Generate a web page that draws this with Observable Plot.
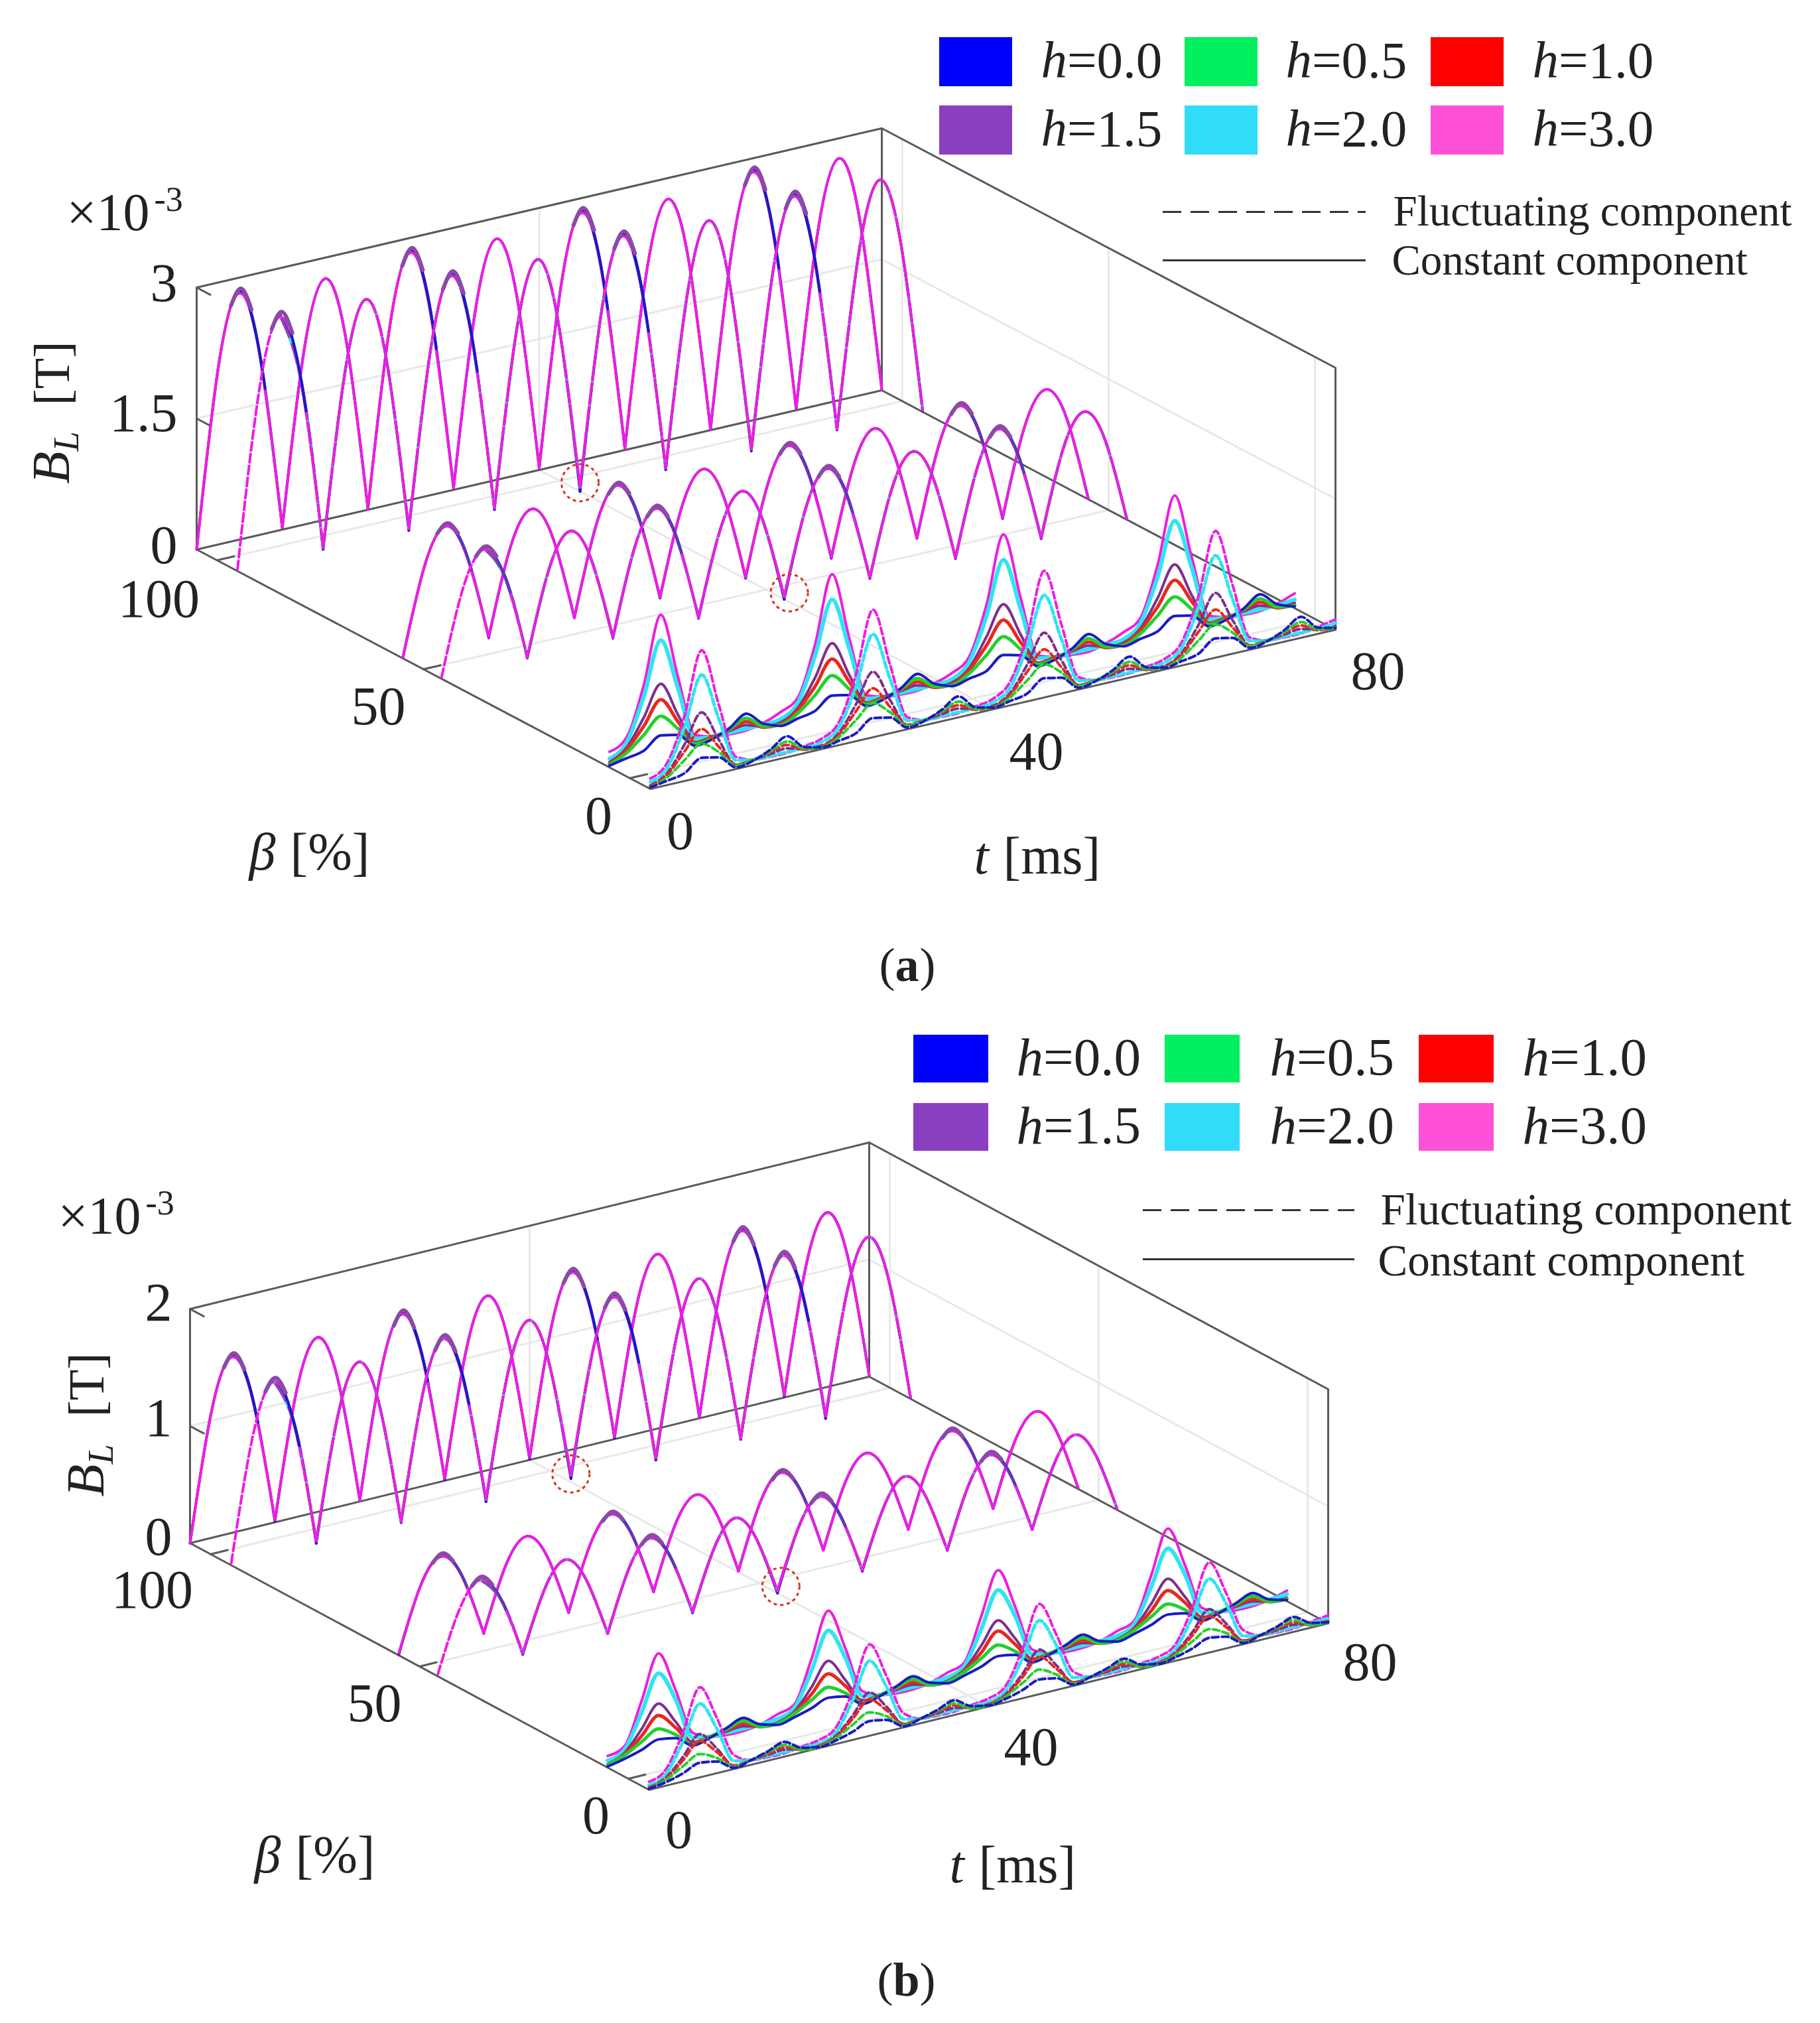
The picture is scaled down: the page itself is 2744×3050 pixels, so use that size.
<!DOCTYPE html>
<html><head><meta charset="utf-8">
<style>html,body{margin:0;padding:0;background:#fff}svg{display:block}</style>
<script src="https://cdn.jsdelivr.net/npm/d3@7"></script>
<script src="https://cdn.jsdelivr.net/npm/@observablehq/plot@0.6"></script>
</head><body><div id="chart"></div>
<script>
// Sample times (ms)
const tUpper=[0,2.5,5,7.5,10,12.5,15,17.5,20,22.5,25,27.5,30,32.5,35,37.5,40,42.5,45,47.5,50,52.5,55,57.5,60,62.5,65,67.5,70,72.5,75,77.5,80];
const tLower=[0,2,4,6,8,10,12,14,16,18,20,22,24,26,28,30,32,34,36,38,40,42,44,46,48,50,52,54,56,58,60,62,64,66,68,70,72,74,76,78,80];
const tPeak=[4,5.2,6.4,24,25.2,26.4,44,45.2,46.4,64,65.2,66.4];
const tFall=[6.2,7.1,8,26.2,27.1,28,46.2,47.1,48,66.2,67.1,68];
// Beta positions of the curve groups and ticks (%)
const betaSolid=[100,54.5,9], betaDashed=[91,46,0];
const betaTicks=[4.5,50,95.5], betaTickLabels=["0","50","100"];
const hLabels=["=0.0","=0.5","=1.0","=1.5","=2.0","=3.0"];
const swatchColors=["#0000ff","#00f060","#ff0000","#8a3fc0","#30dcf8","#ff50d8"];
const lineColors={h0:"#1a1ac4",h05:"#22d030",h1:"#e8281c",h15:"#7c2f90",h2:"#30e4f0",h3:"#ee1ee0"};

// Panel (a), BL in mT
const a100h3=[0,2.01,2.82,1.97,.02,1.97,2.76,1.97,.01,2.01,2.83,1.96,.02,1.97,2.76,1.98,.02,2.02,2.83,1.97,.02,1.96,2.76,1.97,.01,2.01,2.84,1.97,.02,1.97,2.77,1.97,.01];
const a100h0=[0,2.01,2.84,2.00,.02,1.97,2.76,1.97,.01,2.01,2.85,2.00,.02,1.97,2.76,1.98,.02,2.02,2.85,2.00,.02,1.96,2.76,1.97,.01,2.01,2.86,2.00,.02,1.97,2.77,1.97,.01];
const a100p=[2.70,2.87,2.60,2.70,2.88,2.60,2.71,2.88,2.60,2.71,2.89,2.61];
const a100f=[2.62,2.22,1.66,2.63,2.23,1.66,2.63,2.23,1.66,2.64,2.24,1.67];
const a91h3=[.02,1.99,2.80,1.96,.04,1.96,2.77,1.96,.03,1.99,2.81,1.96,.04,1.96,2.77,1.97,.05,2.00,2.81,1.96,.04,1.96,2.76,1.96,.03,1.99,2.81,1.96,.03,1.96,2.77,1.96,.02];
const a91h0=[.02,1.99,2.82,1.99,.02,1.96,2.77,1.96,.01,1.99,2.83,1.99,.02,1.96,2.77,1.97,0,2.00,2.83,1.99,.02,1.96,2.76,1.96,.01,1.99,2.83,1.99,.02,1.96,2.77,1.96,.01];
const a91p=[2.68,2.85,2.58,2.68,2.86,2.58,2.69,2.86,2.58,2.69,2.86,2.58];
const a91f=[2.60,2.21,1.65,2.61,2.21,1.65,2.61,2.21,1.65,2.61,2.21,1.65];
const a55h3=[.02,1.00,1.40,.98,.02,.98,1.37,.98,.01,1.00,1.41,.98,.02,.98,1.37,.98,.02,1.00,1.41,.98,.02,.98,1.38,.98,.01,1.00,1.41,.98,.02,.98,1.37,.98,.01];
const a55h0=[.02,1.00,1.41,1.00,.01,.98,1.37,.98,.01,1.00,1.42,1.00,.01,.98,1.37,.98,.01,1.00,1.42,1.00,.01,.98,1.38,.98,.01,1.00,1.42,1.00,.01,.98,1.37,.98,.01];
const a55p=[1.34,1.43,1.29,1.34,1.44,1.29,1.34,1.44,1.29,1.34,1.44,1.29];
const a55f=[1.30,1.11,.83,1.31,1.11,.83,1.31,1.11,.83,1.31,1.11,.83];
const a46h3=[.02,.98,1.37,.96,.02,.96,1.35,.96,.02,.98,1.38,.96,.02,.96,1.35,.96,.03,.98,1.38,.96,.02,.96,1.35,.96,.02,.98,1.38,.96,.02,.96,1.35,.96,.01];
const a46h0=[.01,.98,1.38,.98,.01,.96,1.35,.96,.01,.98,1.39,.98,.01,.96,1.35,.96,0,.98,1.39,.98,.01,.96,1.35,.96,.01,.98,1.39,.98,.01,.96,1.35,.96,.01];
const a46p=[1.31,1.40,1.26,1.31,1.41,1.26,1.31,1.41,1.26,1.31,1.41,1.26];
const a46f=[1.27,1.08,.81,1.28,1.09,.81,1.28,1.09,.81,1.28,1.09,.81];
// Panel (a) beta = 9 solid curves
const a9h3=[.18,.30,.85,1.61,.85,.14,.08,.06,.06,.10,.18,.30,.86,1.62,.84,.14,.08,.06,.06,.10,.17,.31,.85,1.62,.85,.14,.08,.06,.05,.10,.18,.30,.86,1.61,.85,.14,.08,.06,.06,.10,.17];
const a9h2=[.10,.24,.72,1.32,.72,.10,.08,.08,.08,.08,.10,.24,.73,1.33,.72,.10,.08,.08,.08,.08,.10,.25,.72,1.33,.72,.11,.08,.08,.08,.08,.10,.24,.72,1.32,.73,.10,.08,.08,.08,.08,.10];
const a9h15=[.06,.18,.48,.82,.42,.06,.08,.10,.12,.06,.06,.18,.48,.83,.42,.06,.08,.10,.12,.06,.06,.18,.49,.82,.43,.06,.08,.10,.12,.06,.06,.18,.48,.82,.42,.06,.08,.10,.12,.06,.06];
const a9h1=[.04,.16,.38,.64,.34,.05,.07,.11,.16,.05,.04,.16,.38,.65,.34,.05,.07,.11,.16,.05,.04,.16,.39,.64,.34,.05,.07,.11,.16,.05,.04,.16,.38,.64,.35,.05,.07,.11,.16,.05,.04];
const a9h05=[.03,.12,.28,.45,.26,.04,.06,.12,.20,.06,.03,.12,.28,.46,.26,.04,.06,.12,.20,.06,.03,.12,.28,.45,.26,.04,.06,.12,.20,.06,.03,.12,.28,.45,.26,.04,.06,.12,.20,.06,.03];
const a9h0=[.02,.06,.10,.23,.19,.02,.05,.13,.25,.09,.02,.06,.10,.23,.19,.02,.05,.13,.25,.09,.02,.06,.10,.24,.19,.02,.05,.13,.25,.09,.02,.06,.10,.23,.19,.02,.05,.13,.25,.09,.02];
// Panel (a) beta = 0 dashed curves
const a0h3=[.12,.26,.75,1.45,.78,.14,.06,.05,.05,.08,.12,.26,.76,1.46,.78,.14,.06,.05,.05,.08,.12,.27,.75,1.45,.79,.14,.06,.05,.05,.08,.12,.26,.75,1.45,.78,.14,.06,.05,.05,.08,.12];
const a0h2=[.08,.20,.62,1.17,.62,.10,.06,.06,.06,.06,.08,.20,.62,1.18,.62,.10,.06,.06,.06,.06,.08,.20,.63,1.17,.62,.10,.06,.06,.06,.06,.08,.20,.62,1.17,.62,.10,.06,.06,.06,.06,.08];
const a0h15=[.04,.14,.42,.74,.38,.05,.06,.08,.10,.05,.04,.14,.42,.75,.38,.05,.06,.08,.10,.05,.04,.14,.42,.74,.38,.05,.06,.08,.10,.05,.04,.14,.42,.74,.38,.05,.06,.08,.10,.05,.04];
const a0h1=[.03,.12,.34,.55,.30,.05,.06,.10,.14,.04,.03,.12,.34,.56,.30,.05,.06,.10,.14,.04,.03,.12,.34,.55,.30,.05,.06,.10,.14,.04,.03,.12,.34,.55,.30,.05,.06,.10,.14,.04,.03];
const a0h05=[.02,.09,.24,.38,.24,.04,.06,.11,.18,.05,.02,.09,.24,.39,.24,.04,.06,.11,.18,.05,.02,.09,.24,.38,.24,.04,.06,.11,.18,.05,.02,.09,.24,.38,.24,.04,.06,.11,.18,.05,.02];
const a0h0=[.02,.05,.09,.22,.18,.02,.05,.13,.24,.07,.02,.05,.09,.22,.18,.02,.05,.13,.24,.07,.02,.05,.09,.22,.18,.02,.05,.13,.24,.07,.02,.05,.09,.22,.18,.02,.05,.13,.24,.07,.02];

// Panel (b)
const b100h3=[0,1.07,1.50,1.05,.02,1.06,1.49,1.06,.01,1.07,1.51,1.05,.02,1.06,1.49,1.06,.02,1.07,1.51,1.05,.02,1.06,1.49,1.06,.01,1.07,1.51,1.05,.02,1.06,1.49,1.06,.01];
const b100h0=[0,1.07,1.51,1.07,.01,1.06,1.49,1.06,.01,1.07,1.52,1.07,.01,1.06,1.49,1.06,.01,1.07,1.52,1.07,.01,1.06,1.49,1.06,.01,1.07,1.52,1.07,.01,1.06,1.49,1.06,.01];
const b100p=[1.43,1.53,1.37,1.43,1.54,1.37,1.44,1.54,1.37,1.44,1.54,1.37];
const b100f=[1.40,1.19,.89,1.40,1.19,.89,1.41,1.19,.89,1.41,1.19,.89];
const b91h3=[.02,1.05,1.48,1.04,.03,1.04,1.47,1.04,.02,1.05,1.49,1.04,.03,1.04,1.47,1.04,.06,1.05,1.49,1.04,.03,1.04,1.47,1.04,.02,1.05,1.49,1.04,.03,1.04,1.47,1.04,.01];
const b91h0=[.01,1.05,1.49,1.06,.01,1.04,1.47,1.04,.01,1.05,1.50,1.06,.01,1.04,1.47,1.04,.03,1.05,1.50,1.06,.01,1.04,1.47,1.04,.01,1.05,1.50,1.06,.01,1.04,1.47,1.04,.01];
const b91p=[1.41,1.51,1.36,1.41,1.52,1.36,1.42,1.52,1.36,1.42,1.52,1.36];
const b91f=[1.38,1.17,.88,1.38,1.18,.88,1.39,1.18,.88,1.39,1.18,.88];
const b55h3=[.02,.54,.755,.53,.01,.53,.75,.53,.01,.54,.76,.53,.01,.53,.75,.53,.01,.54,.76,.53,.01,.53,.75,.53,.01,.54,.76,.53,.01,.53,.75,.53,.01];
const b55h0=[.01,.54,.765,.54,.01,.53,.75,.53,.01,.54,.77,.54,.01,.53,.75,.53,.01,.54,.77,.54,.01,.53,.75,.53,.01,.54,.77,.54,.01,.53,.75,.53,.01];
const b55p=[.72,.78,.69,.72,.78,.69,.72,.78,.69,.72,.78,.69];
const b55f=[.70,.60,.45,.70,.60,.45,.71,.60,.45,.71,.60,.45];
const b46h3=[.02,.52,.735,.51,.02,.51,.73,.51,.01,.52,.735,.51,.02,.51,.73,.51,.02,.52,.735,.51,.02,.51,.73,.51,.01,.52,.735,.51,.01,.51,.73,.51,.01];
const b46h0=[.01,.52,.745,.52,.01,.51,.73,.51,.01,.52,.745,.52,.01,.51,.73,.51,0,.52,.745,.52,.01,.51,.73,.51,.01,.52,.745,.52,.01,.51,.73,.51,.01];
const b46p=[.70,.76,.67,.70,.76,.67,.70,.76,.67,.70,.76,.67];
const b46f=[.68,.58,.43,.68,.58,.43,.68,.58,.43,.68,.58,.43];
const b9h3=[.10,.15,.50,.87,.52,.12,.05,.03,.03,.05,.10,.15,.50,.88,.52,.12,.05,.03,.03,.05,.10,.15,.51,.87,.52,.12,.05,.03,.03,.05,.10,.15,.50,.87,.52,.12,.05,.03,.03,.05,.09];
const b9h2=[.06,.12,.40,.70,.44,.08,.05,.05,.05,.05,.06,.12,.40,.71,.44,.08,.05,.05,.05,.05,.06,.12,.40,.70,.44,.08,.05,.05,.05,.05,.06,.12,.40,.70,.44,.08,.05,.05,.05,.05,.06];
const b9h15=[.03,.09,.26,.44,.25,.04,.05,.06,.07,.03,.03,.09,.26,.45,.25,.04,.05,.06,.07,.03,.03,.09,.26,.44,.25,.04,.05,.06,.07,.03,.03,.09,.26,.44,.25,.04,.05,.06,.07,.03,.03];
const b9h1=[.02,.08,.20,.34,.20,.03,.05,.07,.09,.03,.02,.08,.20,.34,.20,.03,.05,.07,.09,.03,.02,.08,.20,.35,.20,.03,.05,.07,.09,.03,.02,.08,.20,.34,.20,.03,.05,.07,.09,.03,.02];
const b9h05=[.02,.07,.15,.225,.14,.02,.05,.08,.115,.03,.02,.07,.15,.225,.14,.02,.05,.08,.115,.03,.02,.07,.15,.23,.14,.02,.05,.08,.115,.03,.02,.07,.15,.225,.14,.02,.05,.08,.115,.03,.02];
const b9h0=[.01,.04,.08,.135,.11,.01,.04,.09,.14,.05,.01,.04,.08,.135,.11,.01,.04,.09,.14,.05,.01,.04,.08,.135,.11,.01,.04,.09,.14,.05,.01,.04,.08,.135,.11,.01,.04,.09,.14,.05,.01];
const b0h3=[.07,.14,.42,.77,.47,.12,.04,.03,.03,.05,.07,.14,.42,.78,.47,.12,.04,.03,.03,.05,.07,.14,.42,.77,.47,.12,.04,.03,.03,.05,.07,.14,.42,.77,.47,.12,.04,.03,.03,.05,.07];
const b0h2=[.04,.10,.34,.63,.38,.07,.04,.04,.04,.04,.04,.10,.34,.64,.38,.07,.04,.04,.04,.04,.04,.10,.34,.63,.38,.07,.04,.04,.04,.04,.04,.10,.34,.63,.38,.07,.04,.04,.04,.04,.04];
const b0h15=[.02,.07,.21,.37,.21,.03,.04,.05,.06,.03,.02,.07,.21,.37,.21,.03,.04,.05,.06,.03,.02,.07,.21,.38,.21,.03,.04,.05,.06,.03,.02,.07,.21,.37,.21,.03,.04,.05,.06,.03,.02];
const b0h1=[.02,.06,.18,.31,.18,.03,.04,.06,.08,.02,.02,.06,.18,.31,.18,.03,.04,.06,.08,.02,.02,.06,.18,.32,.18,.03,.04,.06,.08,.02,.02,.06,.18,.31,.18,.03,.04,.06,.08,.02,.02];
const b0h05=[.01,.05,.13,.20,.13,.02,.04,.07,.10,.02,.01,.05,.13,.20,.13,.02,.04,.07,.10,.02,.01,.05,.13,.21,.13,.02,.04,.07,.10,.02,.01,.05,.13,.20,.13,.02,.04,.07,.10,.02,.01];
const b0h0=[.01,.03,.07,.125,.10,.01,.04,.08,.125,.04,.01,.03,.07,.125,.10,.01,.04,.08,.125,.04,.01,.03,.07,.125,.10,.01,.04,.08,.125,.04,.01,.03,.07,.125,.10,.01,.04,.08,.125,.04,.01];

// Camera of each panel (oblique 3-D projection onto the page)
const panelA={o:[980,1189],tv:[1033,-240],bv:[-684,-361],zu:395/3,bMax:3,bMid:1.5};
const panelB={o:[978,2698],tv:[1024,-251],bv:[-692,-372],zu:353/2,bMax:2,bMid:1};
const px=(p,t,beta,B)=>p.o[0]+p.tv[0]*t/80+p.bv[0]*beta/100;
const py=(p,t,beta,B)=>p.o[1]+p.tv[1]*t/80+p.bv[1]*beta/100-p.zu*B;

const marks=[];
const serif="Liberation Serif";
const pathOf=(p,pts,color,w)=>Plot.line(pts,{x:d=>px(p,d[0],d[1],d[2]),y:d=>py(p,d[0],d[1],d[2]),stroke:color,strokeWidth:w});

function box(p){
  const g="#e8e8e8",k="#5a5a5a",m=p.bMax;
  const grid=[[[40,0,0],[40,100,0]],[[40,100,0],[40,100,m]],[[0,100,p.bMid],[80,100,p.bMid]],[[80,100,p.bMid],[80,0,p.bMid]]];
  for(const b of betaTicks){grid.push([[0,b,0],[80,b,0]]);grid.push([[80,b,0],[80,b,m]]);}
  for(const s of grid)marks.push(pathOf(p,s,g,3));
  const edges=[[[0,100,m],[0,100,0],[0,0,0],[80,0,0],[80,0,m],[80,100,m],[0,100,m]],[[0,100,0],[80,100,0],[80,0,0]],[[80,100,0],[80,100,m]]];
  for(const s of edges)marks.push(pathOf(p,s,k,3));
  const ticks=[[[0,100,m],[0,97,m]],[[0,100,p.bMid],[0,97,p.bMid]]];
  for(const b of betaTicks)ticks.push([[0,b,0],[2,b,0]]);
  for(const s of ticks)marks.push(pathOf(p,s,k,3));
}
function humps(p,beta,vals,color,w,extra={},skipRise=false){
  const rows=[];
  for(let k=0;k<8;k++)for(let i=k*4;i<=k*4+4;i++){ if(skipRise&&i<2)continue; rows.push({t:tUpper[i],B:vals[i],k}); }
  marks.push(Plot.line(rows,{x:d=>px(p,d.t,beta,d.B),y:d=>py(p,d.t,beta,d.B),z:"k",stroke:color,strokeWidth:w,curve:"natural",...extra}));
}
function short(p,beta,ts,vals,color,w){
  const rows=ts.map((t,i)=>({t,B:vals[i],k:Math.floor(i/3)}));
  marks.push(Plot.line(rows,{x:d=>px(p,d.t,beta,d.B),y:d=>py(p,d.t,beta,d.B),z:"k",stroke:color,strokeWidth:w,curve:"natural"}));
}
function lowLine(p,beta,vals,color,w,extra={}){
  const rows=tLower.map((t,i)=>({t,B:vals[i]}));
  marks.push(Plot.line(rows,{x:d=>px(p,d.t,beta,d.B),y:d=>py(p,d.t,beta,d.B),stroke:color,strokeWidth:w,curve:"monotone-x",...extra}));
}
function panel(p,g){
  box(p);
  const dash={strokeDasharray:"13 5"};
  [[betaDashed[0],g.d1,g.d1b,g.d1p,g.d1f,betaSolid[0],g.s1,g.s1b,g.s1p,g.s1f,lineColors.h0],
   [betaDashed[1],g.d2,g.d2b,g.d2p,g.d2f,betaSolid[1],g.s2,g.s2b,g.s2p,g.s2f,"#5a3ab0"]].forEach(([bd,d,db,dp,df,bs,s,sb,sp,sf,fc])=>{
    humps(p,bs,sb,lineColors.h0,4);
    humps(p,bs,s,lineColors.h3,4);
    short(p,bs,tFall,sf,fc,4);
    short(p,bs,tPeak,sp,"#8a4aa8",6);
    humps(p,bd,db,lineColors.h0,4,{},true);
    humps(p,bd,d,"#8a4ab8",4,{},true);
    humps(p,bd,d,lineColors.h2,4,{strokeDasharray:"5 36",strokeDashoffset:4},true);
    humps(p,bd,d,lineColors.h3,4,dash);
    short(p,bd,tFall,df,fc,4);
    short(p,bd,tPeak,dp,"#8a4aa8",6);
  });
  // front group: solid behind dashed, high h drawn first
  [["h3",4],["h2",6],["h15",4],["h1",5],["h05",5],["h0",4]].forEach(([h,w])=>lowLine(p,betaSolid[2],g.s3[h],lineColors[h],w));
  [["h3",4],["h2",5],["h15",4],["h1",4],["h05",4],["h0",4]].forEach(([h,w])=>lowLine(p,betaDashed[2],g.d3[h],lineColors[h],w,{strokeDasharray:"10 5"}));
  // red dashed rings around the marked minima
  marks.push(Plot.dot(g.rings,{x:d=>px(p,d[0],d[1],d[2]),y:d=>py(p,d[0],d[1],d[2]),r:28,stroke:"#d8341c",strokeWidth:3,strokeDasharray:"5 5",fill:"none"}));
}
panel(panelA,{s1:a100h3,s1b:a100h0,s1p:a100p,s1f:a100f,d1:a91h3,d1b:a91h0,d1p:a91p,d1f:a91f,s2:a55h3,s2b:a55h0,s2p:a55p,s2f:a55f,d2:a46h3,d2b:a46h0,d2p:a46p,d2f:a46f,
  s3:{h3:a9h3,h2:a9h2,h15:a9h15,h1:a9h1,h05:a9h05,h0:a9h0},d3:{h3:a0h3,h2:a0h2,h15:a0h15,h1:a0h1,h05:a0h05,h0:a0h0},rings:[[40,91,.10],[40.6,46,.06]]});
panel(panelB,{s1:b100h3,s1b:b100h0,s1p:b100p,s1f:b100f,d1:b91h3,d1b:b91h0,d1p:b91p,d1f:b91f,s2:b55h3,s2b:b55h0,s2p:b55p,s2f:b55f,d2:b46h3,d2b:b46h0,d2p:b46p,d2f:b46f,
  s3:{h3:b9h3,h2:b9h2,h15:b9h15,h1:b9h1,h05:b9h05,h0:b9h0},d3:{h3:b0h3,h2:b0h2,h15:b0h15,h1:b0h1,h05:b0h05,h0:b0h0},rings:[[40,91,.07],[40.4,46,.05]]});

function textOne(s,x,y,size,anchor="start",style="normal",weight="normal",rotate=0){
  marks.push(Plot.text([s],{x:()=>x,y:()=>y,text:d=>d,fontSize:size,textAnchor:anchor,lineAnchor:"bottom",fontFamily:serif,fontStyle:style,fontWeight:weight,fill:"#222",rotate}));
}
const tickSize=82;
// Panel (a) labels
textOne("×10",100,346,80); textOne("-3",232,317,52);
textOne("3",267,453,tickSize,"end"); textOne("1.5",267,649,tickSize,"end"); textOne("0",267,848,tickSize,"end");
textOne(betaTickLabels[2],239,929,tickSize,"middle"); textOne(betaTickLabels[1],570,1091,tickSize,"middle"); textOne(betaTickLabels[0],902,1256,tickSize,"middle");
textOne("0",1025,1279,tickSize,"middle"); textOne("40",1562,1159,tickSize,"middle"); textOne("80",2077,1038,tickSize,"middle");
textOne("β",375,1310,80,"start","italic"); textOne("[%]",437,1310,80);
textOne("t",1468,1316,80,"start","italic"); textOne("[ms]",1512,1316,80);
textOne("B",103,729,80,"start","italic","normal",-90); textOne("L",117,680,54,"start","italic","normal",-90); textOne("[T]",103,611,76,"start","normal","normal",-90);
textOne("(",1325,1478,72); textOne("a",1349,1478,72,"start","normal","bold"); textOne(")",1386,1478,72);
// Panel (b) labels
textOne("×10",87,1859,80); textOne("-3",219,1830,52);
textOne("2",259,1990,tickSize,"end"); textOne("1",259,2164,tickSize,"end"); textOne("0",259,2343,tickSize,"end");
textOne(betaTickLabels[2],229,2423,tickSize,"middle"); textOne(betaTickLabels[1],564,2594,tickSize,"middle"); textOne(betaTickLabels[0],898,2763,tickSize,"middle");
textOne("0",1023,2785,tickSize,"middle"); textOne("40",1554,2660,tickSize,"middle"); textOne("80",2065,2532,tickSize,"middle");
textOne("β",383,2822,80,"start","italic"); textOne("[%]",445,2822,80);
textOne("t",1431,2837,80,"start","italic"); textOne("[ms]",1475,2837,80);
textOne("B",155,2256,80,"start","italic","normal",-90); textOne("L",169,2207,54,"start","italic","normal",-90); textOne("[T]",155,2136,76,"start","normal","normal",-90);
textOne("(",1322,3008,72); textOne("b",1346,3008,72,"start","normal","bold"); textOne(")",1386,3008,72);

// Legends
function legend(cfg){
  const rows=hLabels.map((l,i)=>({l,c:swatchColors[i],col:i%3,row:Math.floor(i/3)}));
  marks.push(Plot.rect(rows,{x1:d=>cfg.sx[d.col],x2:d=>cfg.sx[d.col]+cfg.sw,y1:d=>cfg.sy[d.row],y2:d=>cfg.sy[d.row]+cfg.sh,fill:d=>d.c}));
  for(const r of rows){
    textOne("h",cfg.tx[r.col],cfg.ty[r.row],cfg.fs,"start","italic");
    textOne(r.l,cfg.tx[r.col]+cfg.fs*.5,cfg.ty[r.row],cfg.fs);
  }
  marks.push(Plot.ruleY([cfg.ly[0]],{x1:cfg.lx[0],x2:cfg.lx[1],stroke:"#333",strokeWidth:3,strokeDasharray:"28 14"}));
  marks.push(Plot.ruleY([cfg.ly[1]],{x1:cfg.lx[0],x2:cfg.lx[1],stroke:"#333",strokeWidth:3}));
  textOne("Fluctuating component",cfg.fx,cfg.fy,cfg.fs2);
  textOne("Constant component",cfg.cx,cfg.cy,cfg.fs2);
}
legend({sx:[1416,1786,2157],sw:110,sy:[56,159],sh:74,tx:[1569,1938,2310],ty:[116,219],fs:79,lx:[1753,2059],ly:[319,392],fx:2100,fy:339,cx:2098,cy:413,fs2:65});
legend({sx:[1377,1756,2139],sw:113,sy:[1560,1663],sh:72,tx:[1532,1914,2295],ty:[1620,1723],fs:81,lx:[1723,2042],ly:[1824,1898],fx:2081,fy:1845,cx:2077,cy:1922,fs2:67});

const chart=Plot.plot({width:2744,height:3050,margin:0,
  x:{domain:[0,2744],range:[0,2744],axis:null},
  y:{domain:[0,3050],range:[0,3050],axis:null},
  style:{background:"#fff"},marks});
document.getElementById("chart").appendChild(chart);
</script></body></html>
